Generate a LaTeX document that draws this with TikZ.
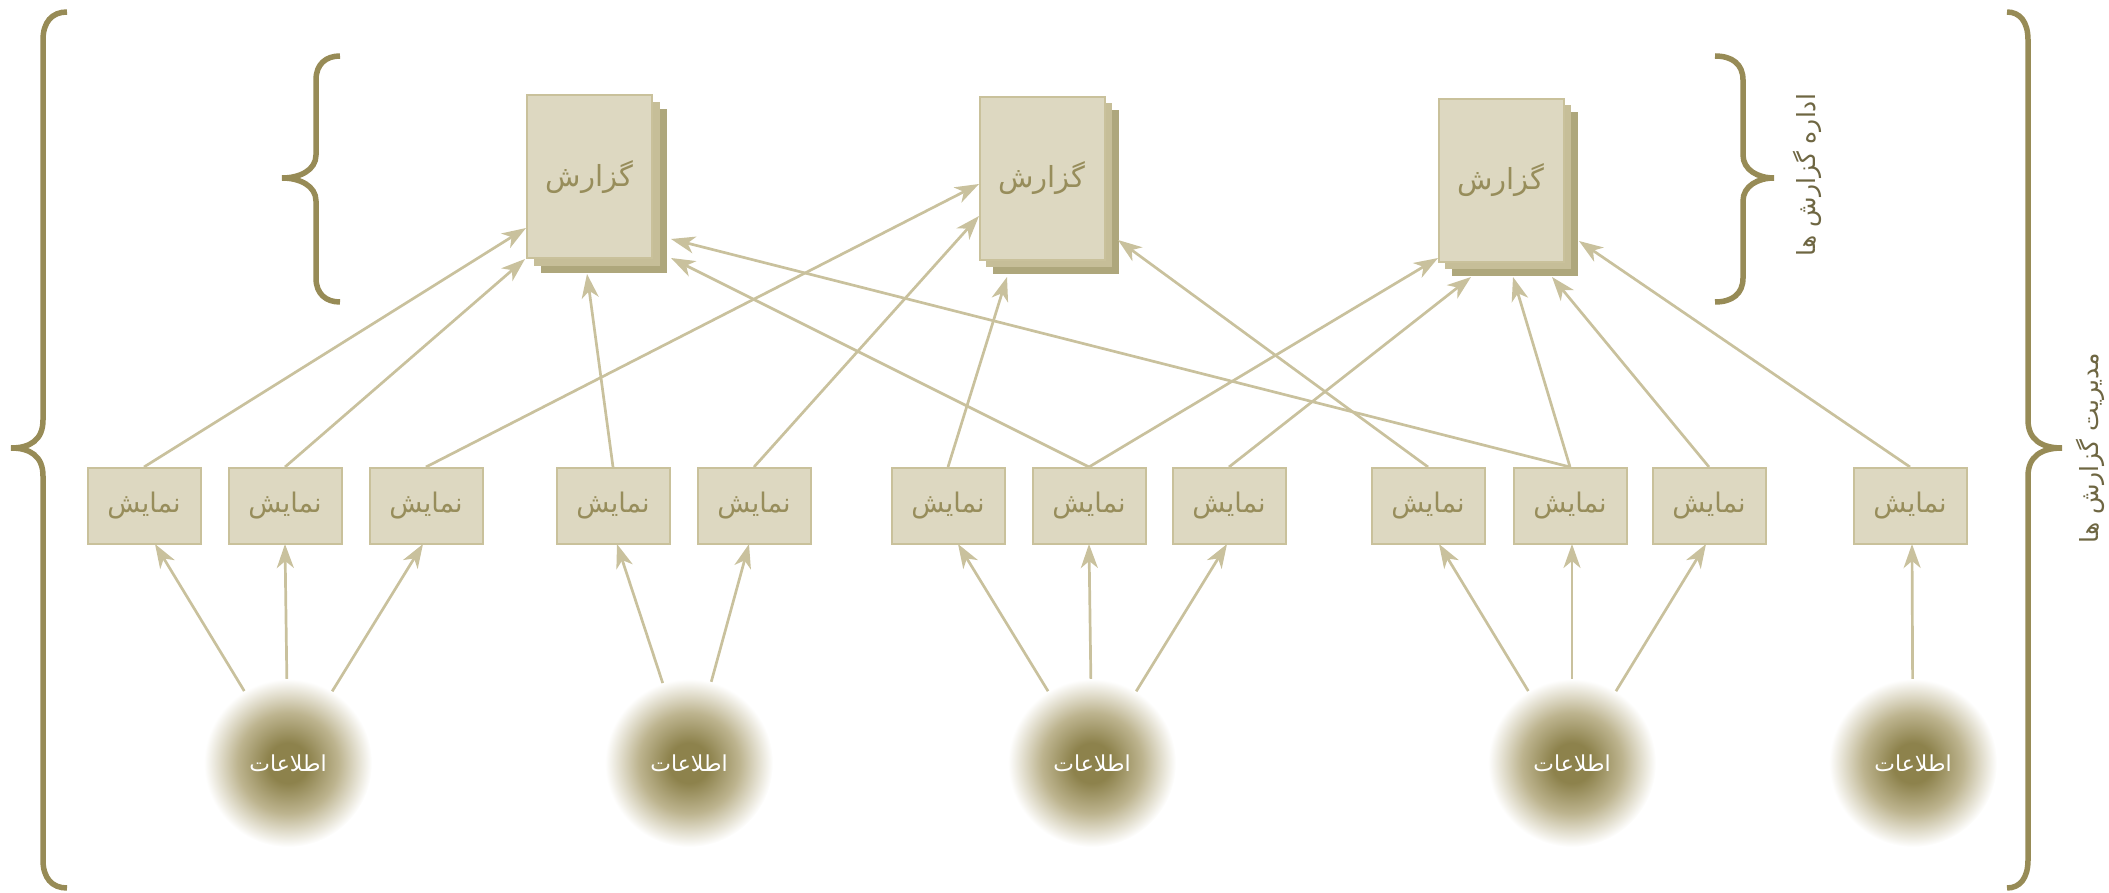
\documentclass[tikz,border=0pt]{standalone}
\usepackage{fontspec}
\usetikzlibrary{arrows.meta,calc}
\newfontfamily\arabicfont[Script=Arabic]{DejaVu Sans}
\TeXXeTstate=1

\definecolor{boxfill}{HTML}{DDD8C1}
\definecolor{boxedge}{HTML}{C9C19B}
\definecolor{boxtext}{HTML}{978D5B}
\definecolor{arrowcol}{HTML}{C9C19D}
\definecolor{layertwo}{HTML}{C6BE98}
\definecolor{layerthree}{HTML}{AEA77C}
\definecolor{braceolive}{HTML}{978B56}
\definecolor{labeltext}{HTML}{6E6642}
\definecolor{infodark}{HTML}{8D824C}
\definecolor{infomid}{HTML}{BDB48F}

% soft glow behind each data source
\pgfdeclareradialshading{infoglow}{\pgfpoint{0bp}{0bp}}{%
  color(0bp)=(infodark); color(6bp)=(infodark); color(15bp)=(infomid);
  color(25bp)=(white); color(50bp)=(white)}

\tikzset{
  dispbox/.style={draw=boxedge, fill=boxfill, line width=2pt,
    minimum width=113pt, minimum height=76pt, inner sep=0pt,
    font=\arabicfont\fontsize{27}{32}\selectfont, text=boxtext},
  reportbox/.style={draw=boxedge, fill=boxfill, line width=2pt,
    minimum width=125pt, minimum height=163pt, inner sep=0pt,
    font=\arabicfont\fontsize{29}{34}\selectfont, text=boxtext},
  layermid/.style={draw=layertwo, fill=layertwo, line width=1pt,
    minimum width=125pt, minimum height=163pt, inner sep=0pt},
  layerback/.style={draw=layerthree, fill=layerthree, line width=1pt,
    minimum width=125pt, minimum height=163pt, inner sep=0pt},
  infonode/.style={circle, minimum size=168pt, inner sep=0pt,
    shading=infoglow, text=white,
    font=\arabicfont\fontsize{22}{26}\selectfont},
  feed/.style={draw=arrowcol, line width=2.7pt,
    -{Stealth[length=24pt,width=17pt,inset=7pt]}},
  bracepath/.style={draw=braceolive, line width=5.5pt},
  sidelabel/.style={rotate=90, text=labeltext,
    font=\arabicfont\fontsize{25}{30}\selectfont}
}

\begin{document}
\begin{tikzpicture}[x=1pt,y=-1pt]
\useasboundingbox (0,0) rectangle (2109,893);

% ---- report stacks ----
\foreach \n/\cx/\cy in {1/589.5/177, 2/1042/178.5, 3/1501/180.5}{
  \node[layerback] at (\cx+14,\cy+14) {};
  \node[layermid]  at (\cx+7,\cy+7) {};
}
\node[reportbox] (r1) at (589.5,177)  {\beginR گزارش\endR};
\node[reportbox] (r2) at (1042,178.5) {\beginR گزارش\endR};
\node[reportbox] (r3) at (1501,180.5) {\beginR گزارش\endR};

% ---- display boxes ----
\foreach \n/\cx in {1/144, 2/285, 3/426, 4/613, 5/754, 6/948, 7/1089,
                    8/1229, 9/1428, 10/1570, 11/1709, 12/1910}{
  \node[dispbox] (d\n) at (\cx,506) {\beginR نمایش\endR};
}

% ---- data sources ----
\node[infonode] (i1) at (288,763)  {\beginR اطلاعات\endR};
\node[infonode] (i2) at (689,763)  {\beginR اطلاعات\endR};
\node[infonode] (i3) at (1092,763) {\beginR اطلاعات\endR};
\node[infonode] (i4) at (1572,763) {\beginR اطلاعات\endR};
\node[infonode] (i5) at (1913,763) {\beginR اطلاعات\endR};

% arrow ends on the bottoms of the display boxes
\coordinate (b1)  at (155,544);
\coordinate (b2)  at (285,544);
\coordinate (b3)  at (423,544);
\coordinate (b4)  at (617,544);
\coordinate (b5)  at (749,544);
\coordinate (b6)  at (958,544);
\coordinate (b7)  at (1089,544);
\coordinate (b8)  at (1227,544);
\coordinate (b9)  at (1439,544);
\coordinate (b10) at (1572,544);
\coordinate (b11) at (1706,544);
\coordinate (b12) at (1912,544);

\draw[feed] (i1) -- (b1);
\draw[feed] (i1) -- (b2);
\draw[feed] (i1) -- (b3);
\draw[feed] (i2) -- (b4);
\draw[feed] (i2) -- (b5);
\draw[feed] (i3) -- (b6);
\draw[feed] (i3) -- (b7);
\draw[feed] (i3) -- (b8);
\draw[feed] (i4) -- (b9);
\draw[feed] (i4) -- (b10);
\draw[feed] (i4) -- (b11);
\draw[feed] (i5) -- (b12);

% arrow ends on the report stacks
\coordinate (p1a) at (526,228);
\coordinate (p1b) at (525,259);
\coordinate (p1c) at (587,274);
\coordinate (p1d) at (671,239);
\coordinate (p1e) at (671,258);
\coordinate (p2a) at (979,184);
\coordinate (p2b) at (979,216);
\coordinate (p2c) at (1007,277);
\coordinate (p2d) at (1118,240);
\coordinate (p3a) at (1438,258);
\coordinate (p3b) at (1471,277);
\coordinate (p3c) at (1513,277);
\coordinate (p3d) at (1552,277);
\coordinate (p3e) at (1579,241);

\draw[feed] (d1.north)  -- (p1a);
\draw[feed] (d2.north)  -- (p1b);
\draw[feed] (d3.north)  -- (p2a);
\draw[feed] (d4.north)  -- (p1c);
\draw[feed] (d5.north)  -- (p2b);
\draw[feed] (d6.north)  -- (p2c);
\draw[feed] (d7.north)  -- (p1e);
\draw[feed] (d7.north)  -- (p3a);
\draw[feed] (d8.north)  -- (p3b);
\draw[feed] (d9.north)  -- (p2d);
\draw[feed] (d10.north) -- (p1d);
\draw[feed] (d10.north) -- (p3c);
\draw[feed] (d11.north) -- (p3d);
\draw[feed] (d12.north) -- (p3e);

% ---- braces ----
\draw[bracepath] (67,12) .. controls (52,12) and (43,22) .. (43,40)
  -- (43,420) .. controls (43,440) and (30,448) .. (11,448)
  .. controls (30,448) and (43,456) .. (43,476)
  -- (43,860) .. controls (43,878) and (52,888) .. (67,888);
\draw[bracepath] (2007,12) .. controls (2020,12) and (2028,22) .. (2028,40)
  -- (2028,420) .. controls (2028,440) and (2042,448) .. (2062,448)
  .. controls (2042,448) and (2028,456) .. (2028,476)
  -- (2028,860) .. controls (2028,878) and (2020,888) .. (2007,888);
\draw[bracepath] (340,56) .. controls (326,56) and (316,64) .. (316,80)
  -- (316,155) .. controls (316,170) and (300,178) .. (282,178)
  .. controls (300,178) and (316,186) .. (316,201)
  -- (316,278) .. controls (316,294) and (326,302) .. (340,302);
\draw[bracepath] (1715,56) .. controls (1732,56) and (1743,64) .. (1743,80)
  -- (1743,155) .. controls (1743,170) and (1758,178) .. (1774,178)
  .. controls (1758,178) and (1743,186) .. (1743,201)
  -- (1743,278) .. controls (1743,294) and (1732,302) .. (1715,302);

% ---- side labels ----
\node[sidelabel] (lrep) at (1807,175) {\beginR اداره گزارش ها\endR};
\node[sidelabel] (lman) at (2090,448) {\beginR مدیریت گزارش ها\endR};
\end{tikzpicture}
\end{document}
